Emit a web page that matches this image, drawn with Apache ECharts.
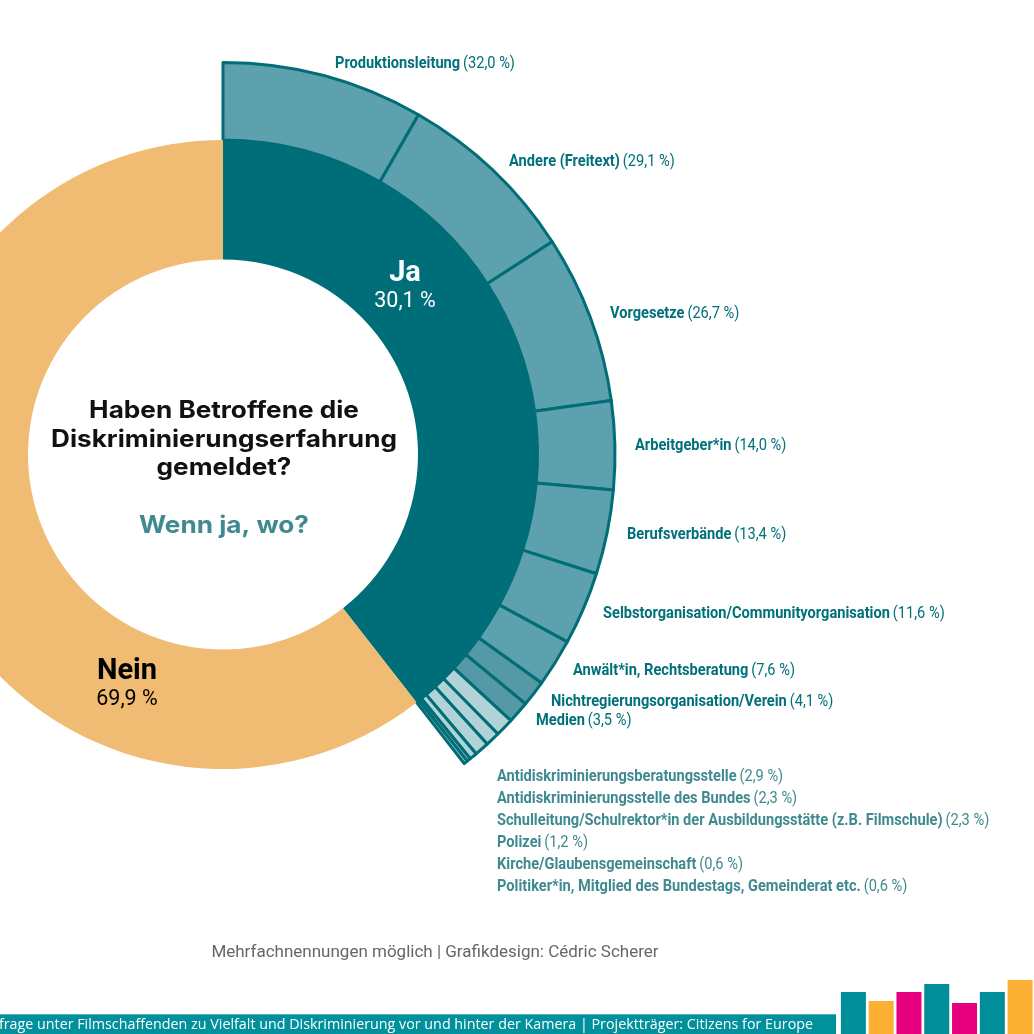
<!DOCTYPE html>
<html>
<head>
<meta charset="utf-8">
<title>Diskriminierungserfahrung gemeldet</title>
<script src="https://cdn.jsdelivr.net/npm/echarts@6/dist/echarts.min.js"></script>
<style>html,body{margin:0;padding:0;background:#fff}</style>
</head>
<body>
<div id="main" style="width:1034px;height:1034px;"></div>
<script type="text/javascript">
// inner ring as drawn in the picture (arc shares), the printed numbers are in the labels below
var ringNames = ['Ja', 'Nein'];
var ringShares = [39.45, 60.55];
var ringLabels = ['30,1 %', '69,9 %'];

var placeNames = ['Produktionsleitung', 'Andere (Freitext)', 'Vorgesetze', 'Arbeitgeber*in', 'Berufsverbände',
    'Selbstorganisation/Communityorganisation', 'Anwält*in, Rechtsberatung', 'Nichtregierungsorganisation/Verein',
    'Medien', 'Antidiskriminierungsberatungsstelle', 'Antidiskriminierungsstelle des Bundes',
    'Schulleitung/Schulrektor*in der Ausbildungsstätte (z.B. Filmschule)', 'Polizei',
    'Kirche/Glaubensgemeinschaft', 'Politiker*in, Mitglied des Bundestags, Gemeinderat etc.'];
var placeValues = [32.0, 29.1, 26.7, 14.0, 13.4, 11.6, 7.6, 4.1, 3.5, 2.9, 2.3, 2.3, 1.2, 0.6, 0.6];
var placeTexts = ['32,0 %', '29,1 %', '26,7 %', '14,0 %', '13,4 %', '11,6 %', '7,6 %', '4,1 %', '3,5 %',
    '2,9 %', '2,3 %', '2,3 %', '1,2 %', '0,6 %', '0,6 %'];

var logoValues = [42, 33, 42, 50, 31, 42, 54];
var logoColors = ['#008e9b', '#fbb034', '#e6007e', '#008e9b', '#e6007e', '#008e9b', '#fbb034'];

// layout of the labels
var labelX = [335, 509, 610, 635, 627, 603, 573, 551, 536, 497, 497, 497, 497, 497, 497];
var labelY = [64, 162, 314, 446, 535, 614, 671, 702, 721, 777, 799, 821, 843, 865, 887];
var LIGHT_FROM = 9;
var DARK = '#00707a', SOFT = '#3f8a8f';

var cx = 223, cy = 454.5;

var placeSum = placeValues.reduce(function (a, b) { return a + b; }, 0);
// the gap keeps the outer ring on the same arc as "Ja"
var gap = placeSum * ringShares[1] / ringShares[0];

var outerData = placeNames.map(function (n, i) {
    var fill = i >= LIGHT_FROM ? '#b1d3d8' : (i >= 7 ? '#5499a5' : '#5ca1ad');
    return {name: n, value: placeValues[i], itemStyle: {color: fill, borderColor: '#006d77', borderWidth: 3}};
});
outerData.push({name: 'rest', value: gap, itemStyle: {color: 'transparent', borderWidth: 0}});

var graphics = [];

placeNames.forEach(function (n, i) {
    var c = i >= LIGHT_FROM ? SOFT : DARK;
    graphics.push({
        type: 'text', x: labelX[i], y: labelY[i], scaleX: 0.86, silent: true, z: 10,
        style: {
            text: '{b|' + n + '} {r|(' + placeTexts[i] + ')}',
            verticalAlign: 'middle',
            rich: {
                b: {fontFamily: 'Roboto', fontWeight: 700, fontSize: 17, fill: c, color: c},
                r: {fontFamily: 'Roboto', fontWeight: 400, fontSize: 17, fill: c, color: c}
            }
        }
    });
});

function centerText(text, x, y, size, weight, color, family, sx) {
    graphics.push({
        type: 'text', x: x, y: y, scaleX: sx || 1, silent: true, z: 10,
        style: {
            text: text, fill: color, fontSize: size, fontWeight: weight, fontFamily: family,
            align: 'center', verticalAlign: 'middle'
        }
    });
}

centerText(ringNames[0], 405, 274, 29, 700, '#fff', 'Roboto');
centerText(ringLabels[0], 405, 302, 21.5, 400, '#fff', 'Roboto');
centerText(ringNames[1], 127, 672, 29, 700, '#000', 'Roboto');
centerText(ringLabels[1], 127, 700, 21.5, 400, '#000', 'Roboto');

centerText('Haben Betroffene die', 224, 411, 24, 700, '#111', 'Inter', 1.09);
centerText('Diskriminierungserfahrung', 224, 440, 24, 700, '#111', 'Inter', 1.09);
centerText('gemeldet?', 224, 468, 24, 700, '#111', 'Inter', 1.09);
centerText('Wenn ja, wo?', 224, 526, 24, 700, SOFT, 'Inter', 1.09);

centerText('Mehrfachnennungen möglich | Grafikdesign: Cédric Scherer', 435, 952.5, 17, 400, '#666', 'Roboto');

graphics.push({type: 'rect', shape: {x: 0, y: 1014, width: 836, height: 20}, style: {fill: '#00919c'}, silent: true, z: 5});
graphics.push({type: 'rect', shape: {x: 0, y: 1014, width: 836, height: 1}, style: {fill: '#4fb5bd'}, silent: true, z: 5});
graphics.push({
    type: 'text', x: 813, y: 1024.5, scaleX: 0.953, silent: true, z: 10,
    style: {
        text: 'frage unter Filmschaffenden zu Vielfalt und Diskriminierung vor und hinter der Kamera | Projektträger: Citizens for Europe',
        fill: '#fff', fontSize: 15, fontFamily: 'Open Sans', fontWeight: 400, align: 'right', verticalAlign: 'middle'
    }
});

var myChart = echarts.init(document.getElementById('main'), null, {renderer: 'canvas'});
var option = {
    animation: false,
    backgroundColor: '#fff',
    grid: {left: 839.5, top: 974, width: 196, height: 60},
    xAxis: {type: 'category', show: false, data: logoValues.map(function (v, i) { return i; })},
    yAxis: {type: 'value', show: false, min: 0, max: 60},
    series: [
        {
            type: 'pie', center: [cx, cy], radius: [314.5, 392], startAngle: 90, clockwise: true,
            label: {show: false}, labelLine: {show: false}, silent: true, data: outerData
        },
        {
            type: 'pie', center: [cx, cy], radius: [195, 314.5], startAngle: 90, clockwise: true,
            label: {show: false}, labelLine: {show: false}, silent: true,
            data: [
                {name: ringNames[0], value: ringShares[0], itemStyle: {color: '#006e78'}},
                {name: ringNames[1], value: ringShares[1], itemStyle: {color: '#f0bb72'}}
            ]
        },
        {
            type: 'bar', barWidth: 25, silent: true,
            data: logoValues.map(function (v, i) { return {value: v, itemStyle: {color: logoColors[i]}}; })
        }
    ],
    graphic: graphics
};
myChart.setOption(option);
</script>
</body>
</html>
